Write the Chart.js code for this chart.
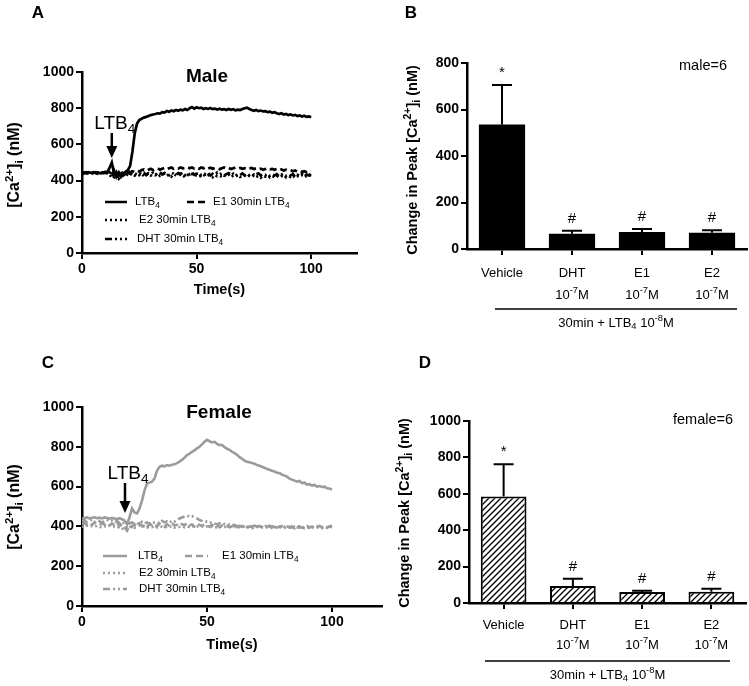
<!DOCTYPE html>
<html>
<head>
<meta charset="utf-8">
<script src="https://cdn.jsdelivr.net/npm/chart.js@4.4.0/dist/chart.umd.min.js"></script>
<style>
  body { margin: 0; background: #fff; width: 749px; height: 686px; position: relative; overflow: hidden; }
  canvas { position: absolute; }
</style>
</head>
<body>
<canvas id="cA" width="370" height="320" style="left:0;top:0"></canvas>
<canvas id="cB" width="379" height="335" style="left:370px;top:0"></canvas>
<canvas id="cC" width="390" height="366" style="left:0;top:320px"></canvas>
<canvas id="cD" width="379" height="351" style="left:370px;top:335px"></canvas>
<script>
// ---- data ----
const timeS = [
  0,1,2,3,4,5,6,7,8,9,
  10,11,12,13,14,15,16,17,18,19,
  20,21,22,23,24,25,26,27,28,29,
  30,31,32,33,34,35,36,37,38,39,
  40,41,42,43,44,45,46,47,48,49,
  50,51,52,53,54,55,56,57,58,59,
  60,61,62,63,64,65,66,67,68,69,
  70,71,72,73,74,75,76,77,78,79,
  80,81,82,83,84,85,86,87,88,89,
  90,91,92,93,94,95,96,97,98,99,
  100
];
const seriesNames = ['LTB_{4}', 'E1 30min LTB_{4}', 'E2 30min LTB_{4}', 'DHT 30min LTB_{4}'];

const maleLTB4 = [
  442,445,440,446,443,441,447,444,440,445,
  448,446,470,500,440,425,445,420,438,448,
  458,482,560,660,715,735,742,748,752,757,
  762,765,768,772,770,778,776,785,780,787,
  783,790,786,792,788,795,790,800,806,798,
  805,800,803,795,800,796,801,795,798,793,
  797,792,795,790,796,791,794,788,792,790,
  795,800,803,796,790,786,790,784,787,782,
  784,778,781,775,778,772,768,772,765,768,
  762,765,760,763,757,760,754,758,752,755,
  750
];
const maleE1 = [
  438,442,445,440,443,447,441,444,446,440,
  443,445,448,430,455,420,440,460,430,445,
  455,445,452,448,455,450,458,462,455,460,
  465,458,462,468,460,465,470,463,468,472,
  465,470,466,473,468,470,475,468,472,466,
  470,465,472,468,474,467,471,465,470,468,
  463,468,472,466,470,464,468,472,466,470,
  465,468,462,467,470,464,468,462,466,460,
  464,468,462,465,460,464,458,462,456,460,
  455,458,452,456,450,454,448,452,446,450,
  455
];
const maleE2 = [
  440,436,441,438,443,439,442,437,440,444,
  438,441,435,415,440,425,410,430,445,420,
  438,432,440,428,436,430,438,425,434,440,
  428,435,430,438,426,432,440,428,434,422,
  436,430,425,435,428,420,432,426,436,424,
  430,420,428,434,422,430,426,418,432,424,
  428,420,430,424,434,418,428,422,432,420,
  426,430,418,428,424,432,420,426,416,428,
  422,430,418,426,420,428,416,424,430,418,
  426,420,428,414,424,420,430,418,426,422,
  435
];
const maleDHT = [
  445,441,447,443,440,446,442,448,444,441,
  446,443,450,432,420,445,415,428,440,425,
  445,438,446,440,434,442,436,444,430,440,
  436,444,432,440,446,434,442,438,430,444,
  438,432,442,436,444,430,440,434,446,432,
  438,444,430,440,434,442,428,438,432,444,
  434,440,428,436,442,430,438,426,436,432,
  440,428,436,430,438,426,434,440,428,436,
  430,438,426,434,428,436,424,432,438,426,
  434,428,436,422,432,426,438,424,432,428,
  440
];

const femLTB4 = [
  438,442,445,440,443,446,441,444,440,445,
  442,439,443,440,437,441,436,430,410,445,
  490,470,465,490,530,580,615,620,625,640,
  680,700,705,702,708,705,710,712,718,725,
  735,745,758,765,775,782,792,800,812,825,
  835,828,822,825,815,808,810,798,790,785,
  775,768,760,748,740,730,725,722,718,715,
  708,705,700,695,688,685,680,676,670,668,
  660,655,650,640,635,630,625,628,618,620,
  610,612,605,608,600,603,598,600,592,590,
  585
];
const femE1 = [
  410,418,405,415,408,420,412,406,416,410,
  418,405,414,408,420,402,412,395,380,405,
  398,410,402,415,400,408,396,412,404,410,
  400,414,405,398,410,402,416,404,408,400,
  412,405,418,406,410,400,414,408,402,410,
  404,398,408,400,406,396,404,398,402,395,
  400,405,396,402,398,404,395,400,397,403,
  398,402,395,400,397,403,396,401,394,399,
  402,396,400,394,399,403,395,400,393,398,
  402,395,399,393,398,402,396,400,394,399,
  403
];
const femE2 = [
  400,395,405,398,402,396,404,399,393,401,
  397,403,395,400,392,398,390,385,378,395,
  400,393,398,405,396,402,394,400,397,404,
  395,401,398,392,400,396,403,394,399,397,
  402,395,400,398,404,396,401,394,399,395,
  400,394,398,392,397,401,393,398,395,400,
  394,399,392,397,395,400,393,398,391,396,
  399,393,397,391,396,400,392,397,394,398,
  392,396,390,395,398,391,396,393,397,390,
  395,392,398,390,394,397,391,396,393,398,
  396
];
const femDHT = [
  425,432,420,428,435,422,430,426,418,428,
  434,424,430,420,428,416,425,410,395,415,
  420,412,418,410,424,415,420,412,425,418,
  422,415,428,420,425,418,430,424,435,440,
  445,450,455,448,452,445,440,432,428,420,
  425,418,422,415,410,416,408,412,405,410,
  404,408,400,406,402,405,398,403,400,404,
  398,402,396,400,404,398,401,396,400,397,
  402,396,400,398,394,399,395,400,393,397,
  399,394,398,392,396,400,394,398,395,400,
  398
];

const treatments = ['Vehicle', 'DHT', 'E1', 'E2'];
const doseLabel = '10^{-7}M';
const bracketLabel = '30min + LTB_{4} 10^{-8}M';
const maleMean = [535, 66, 73, 70];
const maleSem = [170, 13, 13, 11];
const femaleMean = [585, 93, 60, 62];
const femaleSem = [177, 40, 7, 16];
const sigMarks = ['*', '#', '#', '#'];
const timeTicks = [0, 50, 100];

// ---- helpers ----
const FAMILY = '"Liberation Sans", Arial, Helvetica, sans-serif';

function parseRich(s) {
  const out = [];
  const re = /([_^])\{([^}]*)\}/g;
  let last = 0, m;
  while ((m = re.exec(s))) {
    if (m.index > last) out.push([s.slice(last, m.index), 0]);
    out.push([m[2], m[1] === '^' ? 1 : -1]);
    last = re.lastIndex;
  }
  if (last < s.length) out.push([s.slice(last), 0]);
  return out;
}

function drawRich(ctx, s, x, y, size, weight, align, color) {
  const parts = parseRich(s);
  const f = k => `${weight} ${k ? size * 0.72 : size}px ${FAMILY}`;
  let w = 0;
  parts.forEach(p => { ctx.font = f(p[1]); w += ctx.measureText(p[0]).width; });
  let cx = align === 'center' ? x - w / 2 : align === 'right' ? x - w : x;
  ctx.textAlign = 'left';
  ctx.textBaseline = 'middle';
  ctx.fillStyle = color || '#000';
  parts.forEach(p => {
    ctx.font = f(p[1]);
    const dy = p[1] === 1 ? -size * 0.33 : p[1] === -1 ? size * 0.3 : 0;
    ctx.fillText(p[0], cx, y + dy);
    cx += ctx.measureText(p[0]).width;
  });
}

function drawRotated(ctx, s, x, y, size) {
  ctx.save();
  ctx.translate(x, y);
  ctx.rotate(-Math.PI / 2);
  drawRich(ctx, s, 0, 0, size, 'bold', 'center');
  ctx.restore();
}

const dashes = [[], [7, 4], [2, 3], [7, 3, 2, 3, 2, 3]];

function axisOpts(extra) {
  return Object.assign({
    grid: { drawOnChartArea: false, drawTicks: true, tickLength: 6, color: '#000', lineWidth: 2 },
    border: { display: true, color: '#000', width: 2.5 },
    ticks: { color: '#000', padding: 2, font: { family: FAMILY, size: 14, weight: 'bold' }, callback: v => String(v) }
  }, extra);
}

// ---- line panels (A, C) ----
const lineDecor = {
  id: 'lineDecor',
  afterDraw(chart, args, o) {
    const ctx = chart.ctx;
    const xs = chart.scales.x, ys = chart.scales.y;
    ctx.save();
    drawRich(ctx, o.letter, o.letterX, o.letterY, 17, 'bold', 'center');
    drawRich(ctx, o.title, o.titleX, o.titleY, 19, 'bold', 'center');
    drawRich(ctx, 'Time(s)', (chart.chartArea.left + chart.chartArea.right) / 2, o.xTitleY, 14.5, 'bold', 'center');
    drawRotated(ctx, '[Ca^{2+}]_{i} (nM)', o.yTitleX, o.yTitleY, 16);
    // arrow marking LTB4 addition
    const ax = xs.getPixelForValue(o.arrowT);
    const top = ys.getPixelForValue(o.arrowFrom), tip = ys.getPixelForValue(o.arrowTo);
    ctx.strokeStyle = '#000'; ctx.fillStyle = '#000'; ctx.lineWidth = 2.5; ctx.setLineDash([]);
    ctx.beginPath(); ctx.moveTo(ax, top); ctx.lineTo(ax, tip - 8); ctx.stroke();
    ctx.beginPath(); ctx.moveTo(ax - 5.5, tip - 12); ctx.lineTo(ax + 5.5, tip - 12); ctx.lineTo(ax, tip); ctx.closePath(); ctx.fill();
    drawRich(ctx, 'LTB_{4}', ax + 3, top - 9, 19, 'normal', 'center');
    // legend
    o.legend.forEach(r => {
      ctx.strokeStyle = o.color; ctx.lineWidth = 2.5; ctx.setLineDash(dashes[r.i]);
      ctx.beginPath(); ctx.moveTo(r.x1, r.y); ctx.lineTo(r.x2, r.y); ctx.stroke();
      ctx.setLineDash([]);
      drawRich(ctx, seriesNames[r.i], r.tx, r.y, 11.5, 'normal', 'left', '#000');
    });
    ctx.restore();
  }
};

function makeLine(id, values, color, width, box, decor) {
  const datasets = values.map((v, k) => ({
    label: seriesNames[k],
    data: timeS.map((t, i) => ({ x: t, y: v[i] })),
    borderColor: color,
    borderWidth: width,
    borderDash: dashes[k],
    pointRadius: 0,
    tension: 0,
    fill: false
  }));
  return new Chart(document.getElementById(id), {
    type: 'line',
    data: { datasets },
    options: {
      responsive: false,
      animation: false,
      layout: { padding: { left: 0, top: box.top, right: box.right, bottom: 0 } },
      plugins: { legend: { display: false }, tooltip: { enabled: false }, lineDecor: decor },
      scales: {
        x: axisOpts({
          type: 'linear', min: 0, max: 120,
          afterBuildTicks: s => { s.ticks = timeTicks.map(v => ({ value: v })); },
          afterFit: s => { s.height = box.xh; }
        }),
        y: axisOpts({
          min: 0, max: 1000,
          afterBuildTicks: s => { s.ticks = [0, 200, 400, 600, 800, 1000].map(v => ({ value: v })); },
          afterFit: s => { s.width = box.yw; }
        })
      }
    },
    plugins: [lineDecor]
  });
}

makeLine('cA', [maleLTB4, maleE1, maleE2, maleDHT], '#000', 2.7,
  { top: 72, right: 13, xh: 67, yw: 82 },
  {
    letter: 'A', letterX: 38, letterY: 13, title: 'Male', titleX: 207, titleY: 77,
    xTitleY: 290, yTitleX: 15, yTitleY: 165, color: '#000',
    arrowT: 13, arrowFrom: 663, arrowTo: 525,
    legend: [
      { i: 0, x1: 105, x2: 127, y: 202, tx: 135 },
      { i: 1, x1: 187, x2: 208, y: 202, tx: 213 },
      { i: 2, x1: 105, x2: 127, y: 220, tx: 139 },
      { i: 3, x1: 105, x2: 127, y: 239, tx: 137 }
    ]
  });

makeLine('cC', [femLTB4, femE1, femE2, femDHT], '#9b9b9b', 2.6,
  { top: 87, right: 8, xh: 80, yw: 82 },
  {
    letter: 'C', letterX: 48, letterY: 43, title: 'Female', titleX: 219, titleY: 93,
    xTitleY: 325, yTitleX: 15, yTitleY: 187, color: '#9b9b9b',
    arrowT: 17.2, arrowFrom: 618, arrowTo: 467,
    legend: [
      { i: 0, x1: 103, x2: 127, y: 236, tx: 138 },
      { i: 1, x1: 185, x2: 208, y: 236, tx: 222 },
      { i: 2, x1: 103, x2: 127, y: 253, tx: 139 },
      { i: 3, x1: 103, x2: 127, y: 269, tx: 139 }
    ]
  });

// ---- bar panels (B, D) ----
const barDecor = {
  id: 'barDecor',
  afterDraw(chart, args, o) {
    const ctx = chart.ctx;
    const xs = chart.scales.x, ys = chart.scales.y;
    const meta = chart.getDatasetMeta(0);
    ctx.save();
    // error bars (upper) and significance marks
    ctx.strokeStyle = '#000'; ctx.lineWidth = 2; ctx.setLineDash([]);
    meta.data.forEach((bar, i) => {
      const yTop = ys.getPixelForValue(o.mean[i]);
      const yErr = ys.getPixelForValue(o.mean[i] + o.sem[i]);
      ctx.beginPath();
      ctx.moveTo(bar.x, yTop); ctx.lineTo(bar.x, yErr);
      ctx.moveTo(bar.x - 10, yErr); ctx.lineTo(bar.x + 10, yErr);
      ctx.stroke();
      drawRich(ctx, sigMarks[i], bar.x, yErr - 12, 15, 'normal', 'center');
    });
    // category labels
    treatments.forEach((t, i) => {
      const x = xs.getPixelForValue(i);
      drawRich(ctx, t, x, o.row1, 13, 'normal', 'center');
      if (i > 0) drawRich(ctx, doseLabel, x, o.row2, 13, 'normal', 'center');
    });
    // bracket
    ctx.lineWidth = 1.5;
    ctx.beginPath(); ctx.moveTo(o.bx1, o.by); ctx.lineTo(o.bx2, o.by); ctx.stroke();
    drawRich(ctx, bracketLabel, (o.bx1 + o.bx2) / 2, o.by + 14, 13, 'normal', 'center');
    drawRich(ctx, o.letter, o.letterX, o.letterY, 17, 'bold', 'center');
    drawRich(ctx, o.note, o.noteX, o.noteY, 14.5, 'normal', 'center');
    drawRotated(ctx, 'Change in Peak [Ca^{2+}]_{i} (nM)', o.yTitleX, o.yTitleY, 14.5);
    ctx.restore();
  }
};

function makeBar(id, mean, sem, fill, border, box, decor, yMax) {
  decor.mean = mean; decor.sem = sem;
  const ticks = [];
  for (let v = 0; v <= yMax; v += 200) ticks.push(v);
  return new Chart(document.getElementById(id), {
    type: 'bar',
    data: {
      labels: treatments,
      datasets: [{
        data: mean,
        backgroundColor: fill,
        borderColor: '#000',
        borderWidth: border,
        borderSkipped: 'bottom',
        categoryPercentage: 1,
        barPercentage: 0.66
      }]
    },
    options: {
      responsive: false,
      animation: false,
      layout: { padding: { left: 0, top: box.top, right: box.right, bottom: 0 } },
      plugins: { legend: { display: false }, tooltip: { enabled: false }, barDecor: decor },
      scales: {
        x: axisOpts({
          grid: { drawOnChartArea: false, drawTicks: true, tickLength: 6, color: '#000', lineWidth: 2, offset: false },
          ticks: { display: false },
          afterFit: s => { s.height = box.xh; }
        }),
        y: axisOpts({
          min: 0, max: yMax,
          afterBuildTicks: s => { s.ticks = ticks.map(v => ({ value: v })); },
          afterFit: s => { s.width = box.yw; }
        })
      }
    },
    plugins: [barDecor]
  });
}

// hatch pattern for the female bars
const pc = document.createElement('canvas');
pc.width = 6; pc.height = 6;
const pctx = pc.getContext('2d');
pctx.fillStyle = '#fff'; pctx.fillRect(0, 0, 6, 6);
pctx.strokeStyle = '#000'; pctx.lineWidth = 1.3;
pctx.beginPath();
pctx.moveTo(0, 6); pctx.lineTo(6, 0);
pctx.moveTo(-1, 1); pctx.lineTo(1, -1);
pctx.moveTo(5, 7); pctx.lineTo(7, 5);
pctx.stroke();
const hatch = pctx.createPattern(pc, 'repeat');

makeBar('cB', maleMean, maleSem, '#000', 0,
  { top: 63, right: 2, xh: 86, yw: 97 },
  { row1: 273, row2: 295, bx1: 125, bx2: 367, by: 309, letter: 'B', letterX: 41, letterY: 13,
    note: 'male=6', noteX: 333, noteY: 66, yTitleX: 43, yTitleY: 160 }, 800);

makeBar('cD', femaleMean, femaleSem, hatch, 2,
  { top: 86, right: 3, xh: 83, yw: 99 },
  { row1: 290, row2: 310, bx1: 115, bx2: 360, by: 326, letter: 'D', letterX: 55, letterY: 28,
    note: 'female=6', noteX: 333, noteY: 85, yTitleX: 35, yTitleY: 178 }, 1000);
</script>
</body>
</html>
